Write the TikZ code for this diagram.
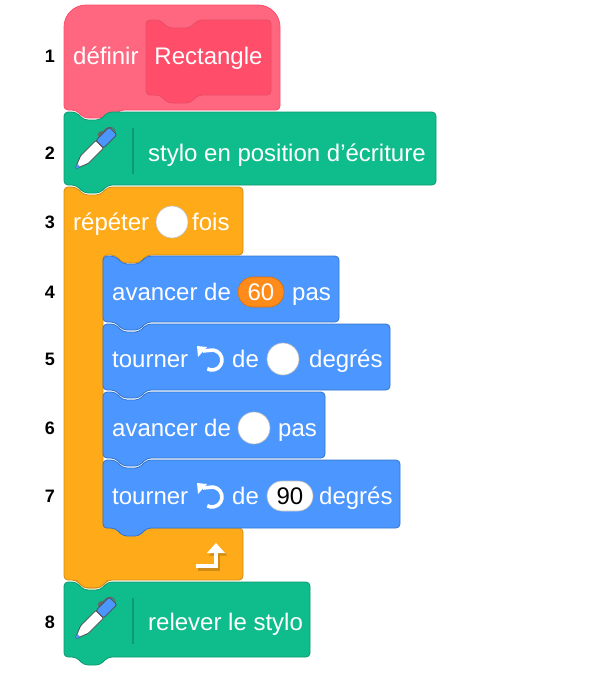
\documentclass[tikz,border=0pt]{standalone}
\usepackage{fontspec}
\setmainfont{Liberation Sans}
\begin{document}
\begin{tikzpicture}[x=1pt,y=-1pt,
  txt/.style={text=white,font=\fontsize{24}{26}\selectfont,inner sep=0pt,anchor=base west},
  num/.style={font=\bfseries\fontsize{18}{20}\selectfont,inner sep=0pt},
  slot/.style={fill=white,draw=black!25,line width=0.6pt}]
\definecolor{pinkA}{HTML}{FF6680}\definecolor{pinkB}{HTML}{FF4D6A}\definecolor{pinkC}{HTML}{E64D66}
\definecolor{grnA}{HTML}{0FBD8C}\definecolor{grnB}{HTML}{0B9A72}
\definecolor{orA}{HTML}{FFAB19}\definecolor{orB}{HTML}{CF8B17}
\definecolor{blA}{HTML}{4C97FF}\definecolor{blB}{HTML}{3373CC}
\definecolor{opA}{HTML}{FF8C1A}\definecolor{opB}{HTML}{DB6E00}
\useasboundingbox (0,0) rectangle (612,694);
\newcommand\stk[6]{% L T R B fill draw
 \fill[#5,draw=#6,line width=0.8pt,rounded corners=4] (#1,#4) -- (#1,#2) -- (#1+12,#2) -- (#1+20,#2+8) -- (#1+36,#2+8) -- (#1+44,#2) -- (#3,#2) -- (#3,#4) -- (#1+44,#4) -- (#1+36,#4+8) -- (#1+20,#4+8) -- (#1+12,#4) -- cycle;}
\newcommand\penicon[2]{%
 \begin{scope}[shift={(#1,#2)},rotate=-45,scale=1.35]
  \draw[black!60,line width=1pt] (-4,-12) .. controls (-8,-22) and (2,-24) .. (3,-18);
  \fill[black!60] (-4,-12) circle (2.8);
  \fill[white,draw=black!70,line width=0.8pt,rounded corners=1] (-4,-6) -- (4,-6) -- (4,10) -- (0,20) -- (-4,10) -- cycle;
  \fill[blA,draw=black!70,line width=0.8pt,rounded corners=2] (-4,-6) -- (-4,-20) -- (4,-20) -- (4,-6) -- cycle;
  \fill[blA] (-1.5,16) -- (1.5,16) -- (0,20) -- cycle;
 \end{scope}}
\newcommand\rotl[2]{%
 \begin{scope}[shift={(#1,#2)},yscale=-1]
  \draw[white,line width=3.6pt] (-9,9) -- (105:10) arc (105:-118:10);
  \fill[white] (-15,14) -- (-5,13) -- (-14,3) -- cycle;
 \end{scope}}
% block 1 hat
\fill[pinkA,draw=pinkB,line width=0.8pt,rounded corners=4] (64,110) -- (64,40) [rounded corners=22] -- (64,5) -- (280,5) [rounded corners=4] -- (280,40) -- (280,110) -- (120,110) -- (112,118) -- (84,118) -- (76,110) -- cycle;
\fill[pinkB,draw=pinkC,line width=0.8pt,rounded corners=4] (146,95) -- (146,20) -- (160,20) -- (168,28) -- (190,28) -- (198,20) -- (271,20) -- (271,95) -- (198,95) -- (190,103) -- (168,103) -- (160,95) -- cycle;
\node[txt] (t1a) at (73,64) {définir};
\node[txt,anchor=base] (t1b) at (208.5,64) {Rectangle};
% repeat C
\fill[orA,draw=orB,line width=0.8pt,rounded corners=4] (64,580) -- (64,187) -- (76,187) -- (84,195) -- (100,195) -- (108,187) -- (243,187) -- (243,255) -- (147,255) -- (139,263) -- (123,263) -- (115,255) -- (103,255) -- (103,528) -- (243,528) -- (243,580) -- (108,580) -- (100,588) -- (84,588) -- (76,580) -- cycle;
% block 8
\stk{64}{582}{310}{657}{grnA}{grnB}
\fill[orA] (77,578) -- (83,586.5) -- (101,586.5) -- (107,578) -- cycle;
\draw[orB,line width=0.8pt,rounded corners=4] (76,580) -- (84,588) -- (100,588) -- (108,580);
% block 2
\stk{64}{112}{436}{185}{grnA}{grnB}
% blue blocks
\stk{103}{256}{339}{322}{blA}{blB}
\stk{103}{324}{390}{390}{blA}{blB}
\stk{103}{392}{325}{458}{blA}{blB}
\stk{103}{460}{400}{528}{blA}{blB}
% repeat text
\node[txt] (t3a) at (73,230) {répéter};
\node[slot,circle,minimum size=32pt,inner sep=0pt] (s3) at (172,222) {};
\node[txt] (t3b) at (192,230) {fois};
% loop arrow
\begin{scope}[shift={(2,2.5)}]
\draw[orB,line width=4pt] (196,566) -- (216,566) -- (216,552);
\fill[orB] (207,553) -- (225,553) -- (216,543) -- cycle;
\end{scope}
\draw[white,line width=4pt] (196,566) -- (216,566) -- (216,552);
\fill[white] (207,553) -- (225,553) -- (216,543) -- cycle;
% pen rows
\penicon{94}{150}
\draw[grnB,line width=1.2pt] (133,128) -- (133,174);
\node[txt] (t2) at (148,161) {stylo en position d’écriture};
\penicon{94}{620}
\draw[grnB,line width=1.2pt] (133,598) -- (133,644);
\node[txt] (t8) at (148,630) {relever le stylo};
% row4
\node[txt] (t4a) at (112,300) {avancer de};
\node[fill=opA,draw=opB,line width=0.6pt,rounded corners=15pt,minimum width=46pt,minimum height=30pt,inner sep=0pt,text=white,font=\fontsize{24}{26}\selectfont] (v4) at (261,292) {60};
\node[txt] (t4b) at (292,300) {pas};
% row5
\node[txt] (t5a) at (112,367) {tourner};
\rotl{212}{360}
\node[txt] (t5b) at (232,367) {de};
\node[slot,circle,minimum size=32pt,inner sep=0pt] (s5) at (283,359) {};
\node[txt] (t5c) at (309,367) {degrés};
% row6
\node[txt] (t6a) at (112,436) {avancer de};
\node[slot,circle,minimum size=32pt,inner sep=0pt] (s6) at (254,428) {};
\node[txt] (t6b) at (278,436) {pas};
% row7
\node[txt] (t7a) at (112,504) {tourner};
\rotl{212}{497}
\node[txt] (t7b) at (232,504) {de};
\node[slot,rounded corners=15pt,minimum width=46pt,minimum height=30pt,inner sep=0pt,font=\fontsize{24}{26}\selectfont] (v7) at (290,496) {90};
\node[txt] (t7c) at (319,504) {degrés};
% numbers
\foreach \n/\y in {1/56,2/153,3/222,4/292,5/359,6/428,7/496,8/622}
  \node[num] (n\n) at (50,\y) {\n};
\end{tikzpicture}
\end{document}
